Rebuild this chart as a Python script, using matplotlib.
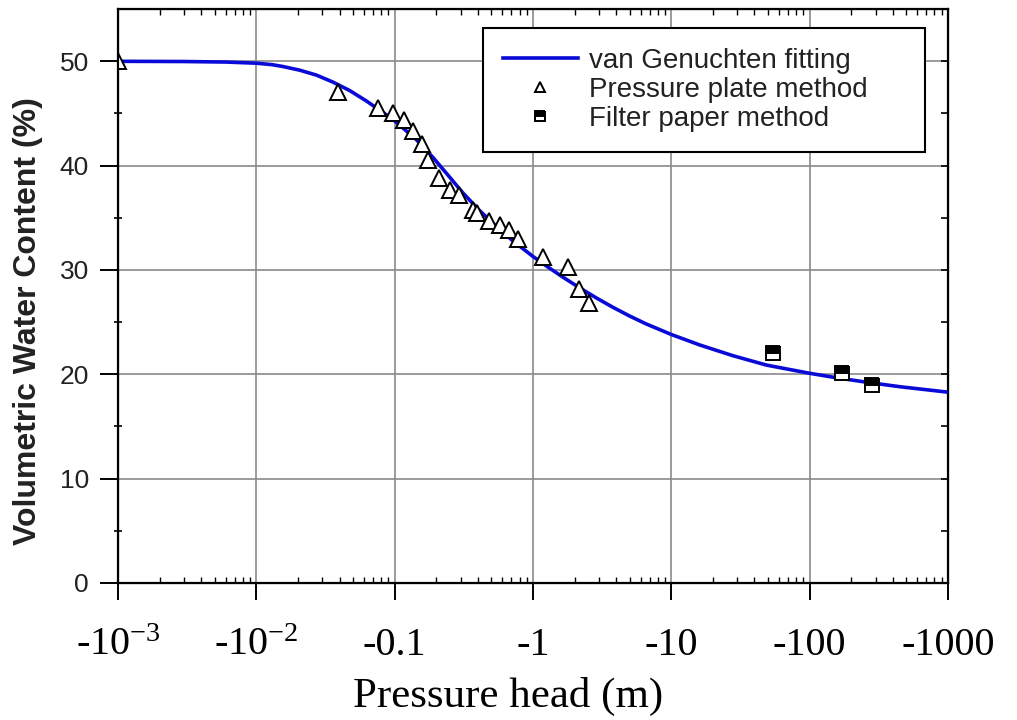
import numpy as np
import matplotlib.pyplot as plt

plt.rcParams['font.family'] = ['Liberation Sans', 'DejaVu Sans']
plt.rcParams['mathtext.fontset'] = 'custom'
plt.rcParams['mathtext.rm'] = 'Liberation Serif'
plt.rcParams['mathtext.it'] = 'Liberation Serif:italic'

# van Genuchten fitting curve (pressure head magnitude in m, water content in %)
fit_h = [0.001, 0.003, 0.006, 0.01, 0.013, 0.0156, 0.0206, 0.0272, 0.0359, 0.0473,
         0.0625, 0.0824, 0.1, 0.1435, 0.189, 0.25, 0.311, 0.411, 0.542, 0.715,
         1.0, 1.245, 1.64, 2.17, 2.86, 3.78, 4.98, 6.56, 10, 16.1,
         28, 49, 100, 150, 262, 457, 1000]
fit_theta = [50.0, 49.98, 49.93, 49.82, 49.68, 49.5, 49.15, 48.68, 48.0, 47.2,
             46.2, 45.1, 44.3, 42.5, 40.8, 38.9, 37.4, 35.7, 34.2, 32.8,
             31.3, 30.4, 29.33, 28.3, 27.34, 26.43, 25.6, 24.84, 23.82, 22.81,
             21.78, 20.88, 20.1, 19.71, 19.23, 18.8, 18.29]

# pressure plate method
plate_h = [0.001, 0.039, 0.076, 0.097, 0.117, 0.1355, 0.158, 0.174, 0.211, 0.252,
           0.294, 0.367, 0.395, 0.485, 0.579, 0.676, 0.776, 1.18, 1.78, 2.17, 2.56]
plate_theta = [50.0, 47.1, 45.5, 45.0, 44.4, 43.35, 42.1, 40.5, 38.8, 37.7,
               37.2, 35.75, 35.5, 34.7, 34.3, 33.8, 33.0, 31.2, 30.3, 28.2, 26.8]

# filter paper method
paper_h = [54.5, 172, 283]
paper_theta = [22.0, 20.1, 18.95]

xtick_vals = [1e-3, 1e-2, 1e-1, 1, 10, 100, 1000]
xtick_labels = [r'-10$^{\mathregular{-3}}$', r'-10$^{\mathregular{-2}}$', '-0.1', '-1', '-10', '-100', '-1000']
ytick_vals = [0, 10, 20, 30, 40, 50]

fig = plt.figure(figsize=(10.17, 7.2), dpi=100)
ax = fig.add_axes([0.116, 0.1903, 0.816, 0.797])

ax.plot(fit_h, fit_theta, color='#0a0ad8', lw=2.6, label='van Genuchten fitting', zorder=3)
ax.plot(plate_h, plate_theta, ls='none', marker='^', ms=11, mfc='white', mec='black',
        mew=1.4, label='Pressure plate method', zorder=4)
ax.plot(paper_h, paper_theta, ls='none', marker='s', ms=10, fillstyle='top',
        mfc='black', mfcalt='white', mec='black', mew=1.4,
        label='Filter paper method', zorder=4)

ax.set_xscale('log')
ax.set_xlim(1e-3, 1e3)
ax.set_ylim(0, 55)

ax.set_xticks(xtick_vals)
ax.set_xticklabels(xtick_labels, fontsize=29, family='Liberation Serif')
ax.set_yticks(ytick_vals)
ax.set_yticks([5, 15, 25, 35, 45], minor=True)
ax.tick_params(axis='y', labelsize=19, labelcolor='#222222')

ax.grid(True, which='major', color='#8a8a8a', lw=1.2)
ax.set_axisbelow(True)

ax.tick_params(axis='x', which='major', direction='out', length=12, width=1.4, top=False, pad=20)
ax.tick_params(axis='x', which='minor', direction='in', length=4, width=1, top=True, bottom=True)
ax.tick_params(axis='y', which='major', direction='out', length=13, width=1.4, pad=8)
ax.tick_params(axis='y', which='minor', direction='inout', length=6, width=1.2)

for sp in ax.spines.values():
    sp.set_linewidth(1.6)

# right-hand ticks point inward
ax2 = ax.twinx()
ax2.set_ylim(0, 55)
ax2.set_yticks(ytick_vals)
ax2.set_yticks([5, 15, 25, 35, 45], minor=True)
ax2.tick_params(axis='y', which='both', direction='in', length=5, width=1.2, labelright=False)

ax.set_ylabel('Volumetric Water Content (%)', fontsize=23, fontweight='bold', color='#222222', va='center')
ax.yaxis.set_label_coords(-0.108, 0.456)
ax.set_xlabel('Pressure head (m)', fontsize=31, family='Liberation Serif', va='center')
ax.xaxis.set_label_coords(0.47, -0.197)

leg = ax.legend(loc='upper left', bbox_to_anchor=(0.44, 0.767, 0.532, 0.2), mode='expand',
                borderaxespad=0, fontsize=20, frameon=True, fancybox=False, edgecolor='black',
                framealpha=1, handlelength=2.7, handletextpad=0.4, labelspacing=0.12,
                borderpad=0.7, markerscale=0.7)
leg.get_frame().set_linewidth(1.5)
for t in leg.get_texts():
    t.set_color('#222222')

fig.savefig('out.png', dpi=100)
